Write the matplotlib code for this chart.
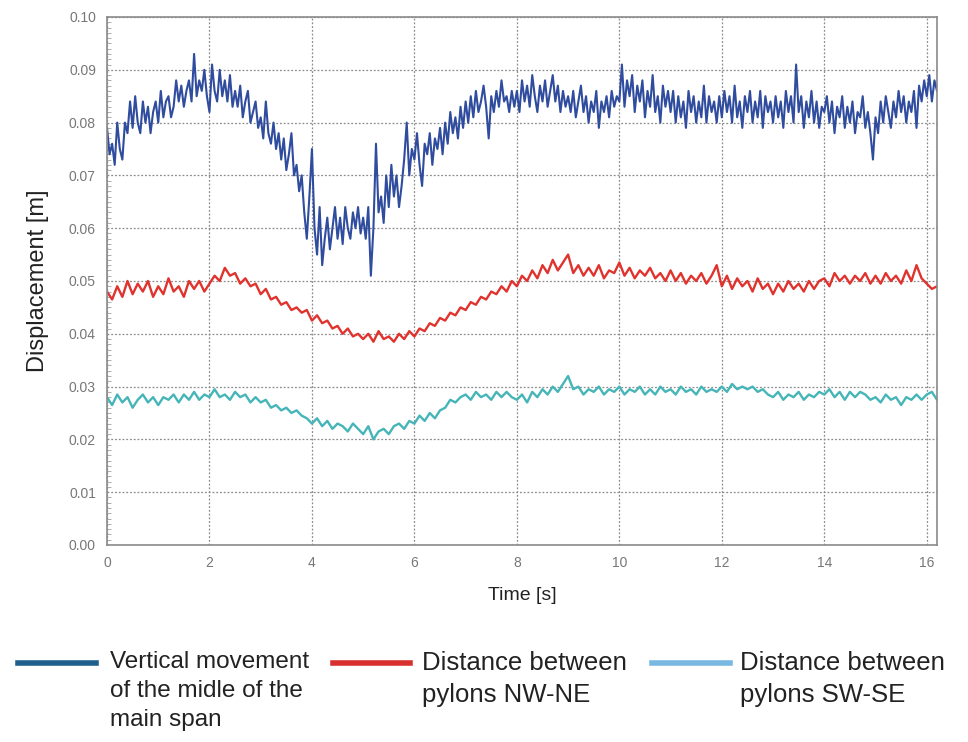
import numpy as np
import matplotlib
matplotlib.use("Agg")
import matplotlib.pyplot as plt
from matplotlib.lines import Line2D
from matplotlib.ticker import MultipleLocator, FormatStrFormatter

# ---------------- data (values in millimetres) ----------------
dt_vertical = 0.05   # vertical movement sampled every 0.05 s
dt_pylons = 0.1      # pylon distances sampled every 0.1 s
vertical_mm = [
    79, 74, 76, 72, 80, 75, 73, 80, 78, 84, 79, 85, 80, 78, 84, 80, 83, 78, 82, 84,
    80, 86, 81, 84, 85, 81, 83, 88, 84, 87, 83, 86, 88, 84, 93, 85, 88, 86, 90, 85,
    82, 91, 86, 84, 90, 85, 88, 84, 89, 83, 86, 83, 87, 81, 84, 86, 80, 82, 84, 79,
    81, 77, 84, 78, 76, 80, 75, 78, 73, 77, 71, 74, 78, 70, 72, 67, 70, 63, 58, 66,
    75, 60, 55, 64, 53, 58, 62, 56, 60, 64, 58, 62, 57, 64, 60, 58, 63, 60, 64, 59,
    62, 58, 64, 51, 60, 76, 63, 66, 61, 70, 64, 72, 66, 70, 64, 68, 73, 80, 70, 75,
    73, 78, 72, 68, 76, 74, 78, 72, 77, 75, 79, 74, 80, 76, 82, 78, 81, 77, 83, 79,
    84, 80, 85, 81, 86, 82, 84, 87, 83, 77, 85, 82, 86, 83, 88, 84, 85, 82, 86, 83,
    86, 82, 88, 84, 87, 83, 89, 85, 82, 87, 84, 88, 83, 86, 89, 84, 87, 82, 86, 83,
    85, 82, 86, 81, 84, 87, 82, 85, 80, 84, 82, 86, 79, 84, 82, 85, 81, 86, 83, 85,
    84, 91, 83, 88, 85, 89, 82, 87, 84, 88, 81, 86, 83, 89, 82, 85, 80, 87, 83, 86,
    82, 86, 80, 85, 81, 84, 79, 86, 82, 85, 80, 84, 81, 87, 80, 85, 82, 84, 80, 85,
    81, 86, 82, 85, 80, 87, 81, 84, 79, 85, 82, 86, 80, 84, 81, 86, 79, 85, 82, 84,
    80, 85, 81, 84, 79, 86, 82, 85, 80, 91, 82, 85, 79, 84, 81, 86, 80, 84, 79, 83,
    82, 85, 80, 84, 78, 83, 81, 85, 79, 83, 80, 84, 78, 82, 81, 85, 79, 82, 78, 73,
    81, 78, 84, 80, 85, 82, 79, 84, 81, 86, 82, 85, 80, 84, 82, 86, 79, 87, 84, 88,
    85, 89, 84, 88, 86, 90, 84, 88, 86,
]
nw_ne_mm = [
    48, 46.5, 49, 47, 50, 47.5, 49.5, 48, 50, 47,
    49, 47.5, 50.5, 48, 49, 47, 50, 48.5, 50, 48,
    49.5, 51, 50, 52.5, 51, 51.5, 49.5, 50.5, 49, 49.5,
    47.5, 48.5, 46.5, 47, 45.5, 46, 44.5, 45, 44, 44.5,
    42.5, 43.5, 42, 42.5, 41, 41.5, 40, 41, 39.5, 40,
    39, 40, 38.5, 40.5, 39, 39.5, 38.5, 40, 39, 40.5,
    39.5, 41, 40.5, 42, 41.5, 43, 42.5, 44, 43.5, 45,
    44.5, 46, 45.5, 47, 46.5, 48, 47.5, 49, 48, 50,
    49, 51, 50, 52, 50.5, 53, 51.5, 54, 52, 53.5,
    55, 51.5, 53, 51, 52.5, 51, 53, 50.5, 52, 51.5,
    53.5, 51, 52.5, 50.5, 52, 51, 52.5, 50.5, 51.5, 50,
    52, 50, 51.5, 49.5, 51, 50, 51.5, 49.5, 51, 53,
    49, 51, 48.5, 50.5, 49, 50, 48, 50.5, 48.5, 49.5,
    47.5, 49.5, 48, 50, 48.5, 49.5, 48, 50, 48.5, 50,
    50.5, 49, 51.5, 50, 51, 49.5, 51, 50, 51.5, 49.5,
    51, 49.5, 51.5, 50, 51, 49.5, 52, 50, 53, 50.5,
    49.5, 48.5, 49, 47.5, 48,
]
sw_se_mm = [
    28, 26.5, 28.5, 27, 28, 26, 27.5, 28.5, 27, 28,
    26.5, 28, 27.5, 28.5, 27, 28.5, 27.5, 29, 27.5, 28.5,
    28, 29.5, 28, 28.5, 27.5, 29, 28, 28.5, 27, 28,
    27, 27.5, 26, 26.5, 25.5, 26, 25, 25.5, 24.5, 24,
    23, 24, 22.5, 23.5, 22, 23, 22.5, 21.5, 23, 22,
    21, 22.5, 20, 21.5, 22, 21, 22.5, 23, 22, 23.5,
    23, 24.5, 23.5, 25, 24, 25.5, 26, 27.5, 27, 28,
    28.5, 27.5, 29, 28, 28.5, 27.5, 29, 28, 29, 28,
    27.5, 28.5, 27, 29, 28, 29.5, 28.5, 30, 29, 30.5,
    32, 29.5, 30, 28.5, 29.5, 29, 30, 28.5, 29.5, 29,
    30, 28.5, 29.5, 29, 30, 28.5, 29.5, 28.5, 30, 29,
    29.5, 28.5, 30, 29, 29.5, 28.5, 30, 29, 29.5, 29,
    30, 29, 30.5, 29.5, 30, 29.5, 30, 29, 29.5, 28.5,
    28, 29, 27.5, 28.5, 28, 29, 27.5, 28.5, 28, 29,
    28.5, 29.5, 28, 29, 27.5, 29, 28, 29, 28.5, 27.5,
    28, 27, 28.5, 27.5, 28, 26.5, 28, 27.5, 28.5, 27.5,
    28.5, 29, 27.5, 28.5, 28,
]
series_labels = [
    "Vertical movement\nof the midle of the\nmain span",
    "Distance between\npylons NW-NE",
    "Distance between\npylons SW-SE",
]
x_ticks = [0, 2, 4, 6, 8, 10, 12, 14, 16]
y_ticks = [0.00, 0.01, 0.02, 0.03, 0.04, 0.05, 0.06, 0.07, 0.08, 0.09, 0.10]

# ---------------- styling ----------------
plt.rcParams['font.family'] = ['Liberation Sans', 'DejaVu Sans']

line_colors = ['#2f4c9e', '#e0332e', '#45b5b8']
legend_colors = ['#1f5f8b', '#d8302e', '#79b8e0']

fig = plt.figure(figsize=(9.68, 7.42), dpi=100)
ax = fig.add_axes([107/968, 1-545/742, (937-107)/968, (545-17)/742])

series = [(vertical_mm, dt_vertical), (nw_ne_mm, dt_pylons), (sw_se_mm, dt_pylons)]
widths = [1.5, 1.7, 1.7]
for (vals, step), c, lw in zip(series, line_colors, widths):
    v = np.array(vals) / 1000.0
    t = np.arange(len(v)) * step
    ax.plot(t, v, color=c, lw=lw)

ax.set_xlim(0, 16.2)
ax.set_ylim(0, 0.10)
ax.set_xticks(x_ticks)
ax.set_yticks(y_ticks)
ax.yaxis.set_major_formatter(FormatStrFormatter('%.2f'))
ax.yaxis.set_minor_locator(MultipleLocator(0.001))
ax.tick_params(axis='both', which='major', labelsize=10, colors='#777777',
               labelcolor='#777777', length=0, pad=8)
ax.tick_params(axis='y', which='minor', length=3, color='#a0a0a0', direction='in')
ax.grid(True, which='major', color='#8c8c8c', linestyle=(0, (1.5, 1.5)), lw=0.9)
for s in ax.spines.values():
    s.set_color('#8a8a8a')
    s.set_linewidth(1.2)

ax.set_ylabel('Displacement [m]', fontsize=17, color='#222222', labelpad=14)
ax.set_xlabel('Time [s]', fontsize=14, color='#222222', labelpad=12)

# ---------------- legend below the plot ----------------
handle_x = [(18, 96), (333, 410), (652, 730)]
text_x = [110, 422, 740]
text_sizes = [17.5, 18.5, 18.5]
y_handle = 663
for (x0, x1), tx, lc, lab, fs in zip(handle_x, text_x, legend_colors, series_labels, text_sizes):
    fig.add_artist(Line2D([x0/968, x1/968], [1 - y_handle/742]*2, color=lc, lw=4,
                          transform=fig.transFigure))
    fig.text(tx/968, 1 - 651/742, lab, fontsize=fs, color='#222222', va='top',
             ha='left', linespacing=1.4)

fig.savefig('out.png', dpi=100)
